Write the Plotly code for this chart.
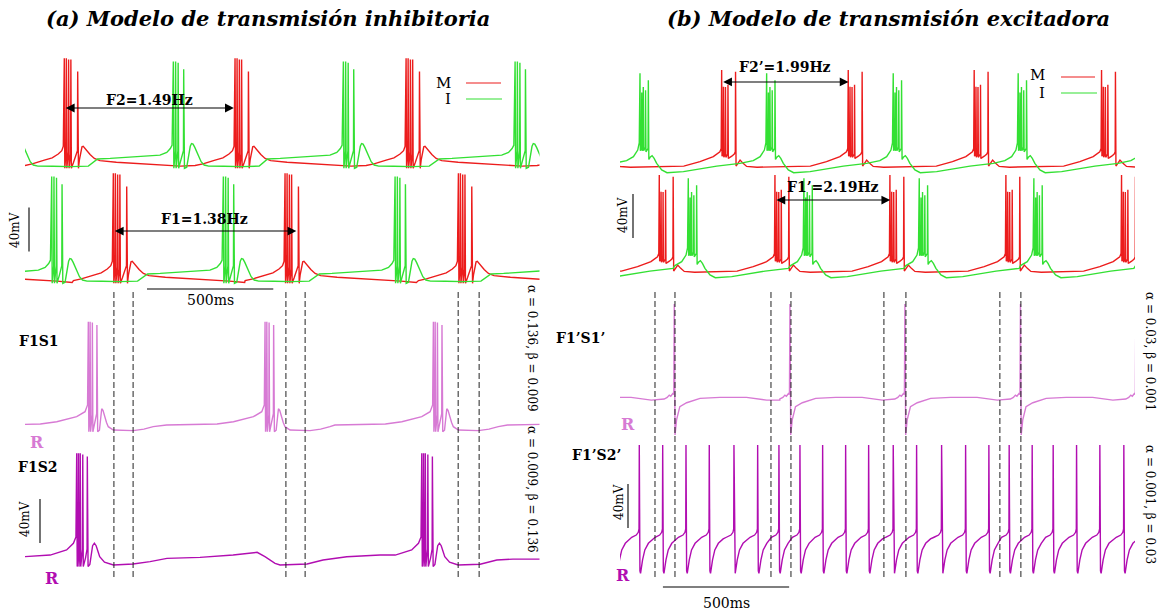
import plotly.graph_objects as go

W, H = 1167, 616

# ---------------- data: times in ms, membrane potential in mV ----------------
# (a) inhibitory transmission: burst onset times
a_top_M = [155.6, 831.6, 1508.8]
a_top_I = [587.3, 1260.5, 1940.4]
a_mid_M = [349.7, 1029.6, 1715.9]
a_mid_I = [105.7, 785.3, 1465.2]
a_S1_R = [250.7, 950.4, 1616.9]
a_S2_R = [204.7, 1570.9]

# (b) excitatory transmission: burst / spike onset times
b_top_M = [402.7, 904.1, 1403.0, 1907.5]
b_top_I = [79.2, 580.9, 1082.3, 1577.3]
b_mid_M = [155.6, 613.8, 1069.2, 1528.6, 1986.7]
b_mid_I = [270.5, 728.6, 1185.4, 1639.4]
b_S1_R = [215.0, 673.2, 1128.6, 1586.3]
b_S2_R = [76.4, 169.1, 261.4, 353.6, 451.4, 545.3, 629.6, 712.8, 802.7, 893.8,
          984.9, 1082.3, 1174.9, 1273.9, 1369.0, 1461.2, 1541.6, 1632.7, 1715.9,
          1808.5, 1900.8, 1995.8]

# burst frequencies (Hz)
freq_F2 = 1.49
freq_F1 = 1.38
freq_F2p = 1.99
freq_F1p = 2.19

# analysis windows (dashed markers, ms)
a_marks = [352, 428, 1033, 1109, 1715, 1798]
b_marks = [138.6, 217.8, 598.0, 677.2, 1045.4, 1132.6, 1504.8, 1588.0]

# waveform shapes around each onset: [time from onset (ms), mV]
wave_aM = [[-158, -60.5], [-127, -59.0], [-79, -55.5], [-48, -53.5], [-24, -50.0], [-10, -47.0], [-4, -43.0],
           [0, 37], [2, -63], [7, -48], [8, 37], [10, -63], [16, -48], [17, 36], [19, -63], [25, -50],
           [26, 36], [28, -63], [36, -58], [46, -52], [52, -47], [53, 25], [56, -63],
           [60, -55], [65, -47], [70, -43.5], [75, -43], [82, -45], [90, -48], [102, -50.5], [119, -54],
           [141, -56], [206, -57.5], [339, -59], [460, -61], [520, -62.3], [560, -61.5], [620, -60.5]]

wave_aI = [[-300, -54.5], [-250, -54.0], [-120, -52.4], [-53, -51.0], [-26, -48.5], [-12, -45.0], [-5, -42.0],
           [0, 34], [2, -63], [8, -47], [9, 34], [11, -63], [18, -47], [19, 33], [21, -63], [30, -56],
           [40, -47], [41, 27], [44, -63],
           [53, -62], [57, -56], [62, -48], [67, -43], [72, -40.5], [78, -41], [85, -44], [93, -48.5],
           [101, -53], [110, -57], [122, -60], [140, -61], [200, -61.2], [270, -61.5], [340, -61]]

wave_aR1 = [[-390, -57.3], [-190, -56.4], [-125, -54.3], [-46, -49.7], [-13, -45.2], [-3, -39],
            [0, 36.6], [2, -63.4], [6, -48], [7, 36.6], [9, -63.4], [15, -48], [16, 36], [18, -63.4],
            [26, -56], [33, -47], [34, 33.6], [37, -63.4],
            [44, -62], [48, -52], [53, -42.5], [58, -44], [65, -50], [72, -55], [79, -58.8], [99, -61.8],
            [178, -62.4], [220, -61], [257, -58.8], [309, -57.3], [400, -57]]

wave_aR2 = [[-105, -55.5], [-40, -50.9], [-13, -44.8], [-3, -39],
            [0, 37], [2, -66], [6, -50], [7, 37], [9, -66], [13, -50], [14, 37], [16, -66], [23, -50],
            [24, 36], [26, -66], [35, -58], [41, -50], [42, 34], [45, -66], [52, -64],
            [57, -55], [63, -47], [70, -44.8], [77, -47], [84, -52], [91, -57], [110, -62], [144, -64.5]]

a_S2_base = [[-4, -57], [50, -56.5], [350, -64.5], [428, -63.6], [495, -61.5], [562, -58.5], [693, -57.6],
             [824, -55.5], [891, -53.9], [919, -53], [950, -57], [990, -63], [1010, -64.5], [1117, -63.6],
             [1180, -60], [1274, -57], [1406, -55.5], [1802, -63.8], [1868, -60], [1932, -59.2], [2040, -59.2]]

wave_bM = [[-150, -61], [-86, -57], [-33, -52.4], [-7, -47.9], [-2, -45],
           [0, 26.4], [1.5, -52], [6, -50], [7, 11.2], [8.5, -53], [14, -50], [15, 11], [16.5, -53],
           [24, -50], [25, 13], [26.5, -54], [40, -52], [50, -50], [54, -48], [55, 24.8], [57, -61],
           [63, -58.5], [73, -55.5], [85, -58.5], [99, -61.3], [140, -62], [300, -61.5], [450, -61]]

wave_bI = [[-53, -56], [-26, -52.4], [-9, -46.4], [-3, -40],
           [0, 23.4], [1.5, -47], [6, -44], [7, 6], [8.5, -47], [12, -44], [13, 11], [14.5, -47],
           [21, -44], [22, 8], [23.5, -48], [32, -45], [33, 17], [35, -55],
           [40, -53], [48, -51.5], [56, -54], [66, -58.5], [76, -62], [86, -64.5], [107, -67],
           [172, -66], [304, -61], [396, -58.5], [450, -57.5]]

wave_bR1 = [[-40, -60], [-28, -58.5], [-20, -56.5], [-14, -57.5], [-6, -55], [-2, -56],
            [0, 26.4], [3, -92.7], [9, -79], [22, -67], [49, -63.4], [102, -59.4], [181, -58.5],
            [286, -58.5], [366, -61], [418, -61], [460, -61]]

wave_bR2 = [[-30, -57.5], [-12, -55.5], [-4, -53], [-1, -50],
            [0, 26.4], [2.5, -88], [5, -90.3], [13, -78], [22, -69], [36, -63], [55, -59], [80, -56.5]]

# ---------------- styling ----------------
RED = "#ec1c1c"
GREEN = "#33e033"
PINK = "#d77ad4"
PURPLE = "#b10db1"
SERIF = "DejaVu Serif"
MV_PX = 1.1          # pixels per mV
V_LO, V_HI = -100.0, 45.0


def px(x):
    return x / W


def py(y):
    return 1 - y / H


def assemble(onsets, wave, periodic=True, base=()):
    """Place a waveform at every onset; between onsets the next pre-ramp cuts the previous tail."""
    starts = list(onsets)
    if periodic and len(starts) > 1:
        period = (starts[-1] - starts[0]) / (len(starts) - 1)
        starts = [starts[0] - period] + starts + [starts[-1] + period]
    lead = wave[0][0]
    pts, spans = [], []
    for i, s in enumerate(starts):
        stop = starts[i + 1] + lead if i + 1 < len(starts) else float("inf")
        seg = [(s + dt, v) for dt, v in wave if s + dt < stop]
        pts.extend(seg)
        spans.append((seg[0][0], seg[-1][0]))
    for t, v in base:
        if not any(a <= t <= b for a, b in spans):
            pts.append((t, v))
    pts.sort()
    return pts


fig = go.Figure()


def add_line(pts, xa, ya, color, width=1.4):
    fig.add_trace(go.Scatter(
        x=[p[0] for p in pts], y=[p[1] for p in pts], xaxis=xa, yaxis=ya,
        mode="lines", line=dict(color=color, width=width),
        hoverinfo="skip", showlegend=False))


# panel (a)
add_line(assemble(a_top_M, wave_aM), "x", "y", RED)
add_line(assemble(a_top_I, wave_aI), "x", "y", GREEN)
add_line(assemble(a_mid_M, wave_aM), "x", "y2", RED)
add_line(assemble(a_mid_I, wave_aI), "x", "y2", GREEN)
add_line(assemble(a_S1_R, wave_aR1), "x", "y3", PINK)
add_line(assemble(a_S2_R, wave_aR2, periodic=False, base=a_S2_base), "x", "y4", PURPLE)
# panel (b)
add_line(assemble(b_top_M, wave_bM), "x2", "y5", RED)
add_line(assemble(b_top_I, wave_bI), "x2", "y5", GREEN)
add_line(assemble(b_mid_M, wave_bM), "x2", "y6", RED)
add_line(assemble(b_mid_I, wave_bI), "x2", "y6", GREEN)
add_line(assemble(b_S1_R, wave_bR1), "x2", "y7", PINK)
add_line(assemble(b_S2_R, wave_bR2), "x2", "y8", PURPLE)

# ---------------- axes: one hidden axis per trace row ----------------
layout = dict(width=W, height=H, margin=dict(l=0, r=0, t=0, b=0),
              paper_bgcolor="white", plot_bgcolor="rgba(0,0,0,0)", showlegend=False)
layout["xaxis"] = dict(domain=[px(25), px(539.5)], range=[0, 2037], visible=False, anchor="y")
layout["xaxis2"] = dict(domain=[px(620), px(1135)], range=[0, 2040], visible=False, anchor="y5")
rows = [("y", "x", 165), ("y2", "x", 280), ("y3", "x", 428), ("y4", "x", 560),
        ("y5", "x2", 165), ("y6", "x2", 270), ("y7", "x2", 399), ("y8", "x2", 540)]
for name, xa, base in rows:
    top = base - (V_HI + 60) * MV_PX
    bot = base + (-60 - V_LO) * MV_PX
    layout["yaxis" + name[1:]] = dict(domain=[py(bot), py(top)], range=[V_LO, V_HI],
                                      visible=False, anchor=xa)
fig.update_layout(**layout)

shapes = []
ann = []


def text(x, y, s, size=14, color="black", bold=False, italic=False, angle=0, xanchor="center",
         xref="paper"):
    if italic:
        s = "<i>" + s + "</i>"
    if bold:
        s = "<b>" + s + "</b>"
    ann.append(dict(x=x, y=py(y), xref=xref, yref="paper", text=s, showarrow=False,
                    textangle=angle, xanchor=xanchor, yanchor="middle",
                    font=dict(family=SERIF, size=size, color=color)))


# titles
text(px(268), 18, "(a) Modelo de transmisión inhibitoria", size=21, bold=True, italic=True)
text(px(888), 18, "(b) Modelo de transmisión excitadora", size=21, bold=True, italic=True)

# period arrows (length = 1 / frequency)
arrows = [("x", "y", a_top_M[0], freq_F2, -8.2, 100, "F2=1.49Hz"),
          ("x", "y2", a_mid_M[0], freq_F1, -15.5, 219, "F1=1.38Hz"),
          ("x2", "y5", b_top_M[0], freq_F2p, 15.5, 67.5, "F2’=1.99Hz"),
          ("x2", "y6", b_mid_M[1], freq_F1p, 3.6, 187, "F1’=2.19Hz")]
for xa, ya, t0, f, v, ylab, lab in arrows:
    t1 = t0 + 1000.0 / f
    ann.append(dict(x=t1, y=v, ax=t0, ay=v, xref=xa, yref=ya, axref=xa, ayref=ya, text="",
                    showarrow=True, arrowhead=2, startarrowhead=2, arrowside="end+start",
                    arrowsize=1.6, startarrowsize=1.6, arrowwidth=1.1, arrowcolor="black",
                    standoff=0, startstandoff=0))
    text((t0 + t1) / 2, ylab, lab, size=14, bold=True, xref=xa)

# legends M / I
for xr, ym, yi, yline, x0, x1m, x1i in [(453, 83, 99, 83, 466, 501, 502),
                                         (1047, 75, 93, 77, 1061, 1095, 1097)]:
    text(px(xr), ym, "M", size=15, xanchor="right")
    text(px(xr), yi, "I", size=15, xanchor="right")
    shapes.append(dict(type="line", xref="paper", yref="paper", x0=px(x0), x1=px(x1m),
                       y0=py(yline), y1=py(yline), line=dict(color=RED, width=1.2)))
    shapes.append(dict(type="line", xref="paper", yref="paper", x0=px(x0), x1=px(x1i),
                       y0=py(yi), y1=py(yi), line=dict(color=GREEN, width=1.2)))

# 40 mV scale bars
for xb, ya, v0, xl, yl in [(29, "y2", -34, 15, 230), (40, "y4", -44.5, 25, 519),
                           (633, "y6", -31, 623, 215), (628, "y8", -49, 619, 502)]:
    shapes.append(dict(type="line", xref="paper", yref=ya, x0=px(xb), x1=px(xb), y0=v0, y1=v0 + 40,
                       line=dict(color="black", width=1.1)))
    text(px(xl), yl, "40mV", size=12, angle=-90)

# 500 ms scale bars
for xa, t0, yb, yl in [("x", 483, 289, 300), ("x2", 170, 587, 603)]:
    shapes.append(dict(type="line", xref=xa, yref="paper", x0=t0, x1=t0 + 500, y0=py(yb), y1=py(yb),
                       line=dict(color="black", width=1.1)))
    text(t0 + 250, yl, "500ms", size=14, xref=xa)

# dashed analysis windows
for xa, marks in [("x", a_marks), ("x2", b_marks)]:
    for t in marks:
        shapes.append(dict(type="line", xref=xa, yref="paper", x0=t, x1=t, y0=py(577), y1=py(290),
                           line=dict(color="#222222", width=1, dash="6px,3px")))

# row labels
text(px(39), 341, "F1S1", size=14, bold=True)
text(px(38), 467, "F1S2", size=14, bold=True)
text(px(607), 338, "F1’S1’", size=14, bold=True, xanchor="right")
text(px(623), 455, "F1’S2’", size=14, bold=True, xanchor="right")
text(px(37), 442, "R", size=16, bold=True, color=PINK)
text(px(52), 578, "R", size=16, bold=True, color=PURPLE)
text(px(628), 424, "R", size=16, bold=True, color=PINK)
text(px(623), 575, "R", size=16, bold=True, color=PURPLE)

# coupling parameters
text(px(532), 348, "α = 0.136, β = 0.009", size=12, angle=90)
text(px(532), 489, "α = 0.009, β = 0.136", size=12, angle=90)
text(px(1150), 351, "α = 0.03, β = 0.001", size=12, angle=90)
text(px(1150), 504, "α = 0.001, β = 0.03", size=12, angle=90)

fig.update_layout(shapes=shapes, annotations=ann)
fig.write_html("out.html")
